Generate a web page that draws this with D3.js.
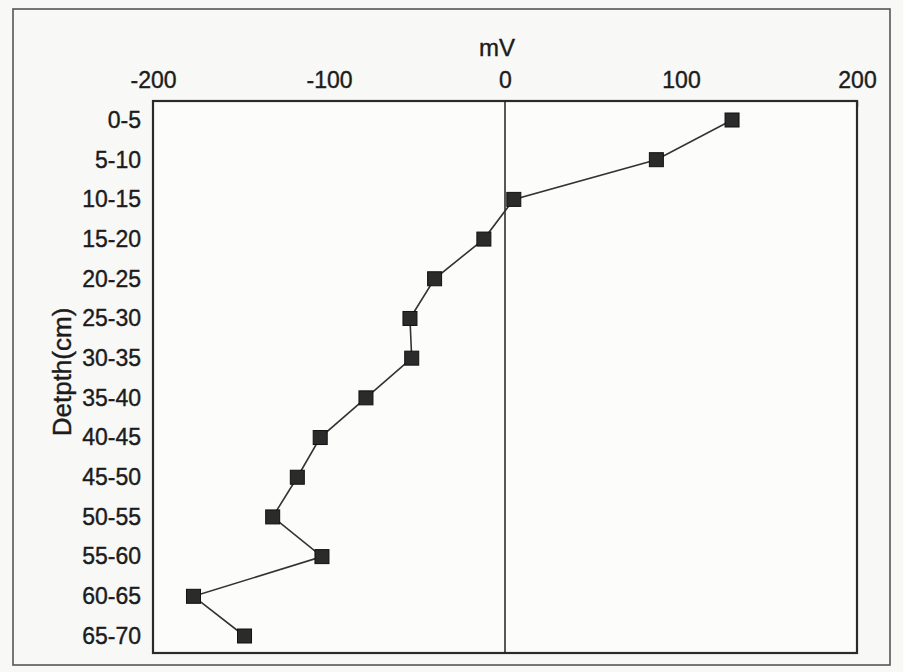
<!DOCTYPE html>
<html>
<head>
<meta charset="utf-8">
<script src="https://cdn.jsdelivr.net/npm/d3@7/dist/d3.min.js"></script>
<style>
  html, body { margin: 0; padding: 0; background: #f8f8f6; }
  svg { display: block; }
  text { font-family: "Liberation Sans", Arial, sans-serif; fill: #1c1c1c; }
</style>
</head>
<body>
<svg id="chart" width="903" height="672"></svg>
<script>
// Depth intervals (cm) and measured potential (mV)
const depths = ["0-5", "5-10", "10-15", "15-20", "20-25", "25-30", "30-35",
                "35-40", "40-45", "45-50", "50-55", "55-60", "60-65", "65-70"];
const mvValues = [129, 86, 5, -12, -40, -54, -53, -79, -105, -118, -132, -104, -177, -148];
const xTicks = [-200, -100, 0, 100, 200];

const svg = d3.select("#chart");
const plot = { left: 153, right: 857, top: 101, bottom: 653 };

// Outer figure border
svg.append("rect")
  .attr("x", 13).attr("y", 9)
  .attr("width", 877).attr("height", 656)
  .attr("fill", "none")
  .attr("stroke", "#555")
  .attr("stroke-width", 1.6);

const x = d3.scaleLinear().domain([-200, 200]).range([plot.left, plot.right]);
const y = d3.scalePoint().domain(depths).range([120, 636]);

// Top value axis with inward ticks
const xAxis = svg.append("g")
  .attr("transform", `translate(0,${plot.top})`)
  .call(d3.axisTop(x).tickValues(xTicks).tickSizeInner(-6).tickSizeOuter(0).tickPadding(13)
    .tickFormat(d3.format("d")));
xAxis.select(".domain").remove();
xAxis.selectAll("line").attr("stroke", "#333").attr("stroke-width", 1.4);
xAxis.selectAll("text")
  .attr("font-size", 23)
  .attr("stroke", "#1c1c1c").attr("stroke-width", 0.4)
  .text(d => d < 0 ? "-" + Math.abs(d) : d);

// Left depth axis with inward ticks
const yAxis = svg.append("g")
  .attr("transform", `translate(${plot.left},0)`)
  .call(d3.axisLeft(y).tickSizeInner(-8).tickSizeOuter(0).tickPadding(12));
yAxis.select(".domain").remove();
yAxis.selectAll("line").attr("stroke", "#333").attr("stroke-width", 1.4);
yAxis.selectAll("text")
  .attr("font-size", 23)
  .attr("stroke", "#1c1c1c").attr("stroke-width", 0.4);

// Plot frame
svg.append("rect")
  .attr("x", plot.left).attr("y", plot.top)
  .attr("width", plot.right - plot.left).attr("height", plot.bottom - plot.top)
  .attr("fill", "#fcfcfb")
  .attr("stroke", "#2a2a2a")
  .attr("stroke-width", 2.2);

// Zero reference line
svg.append("line")
  .attr("x1", x(0)).attr("x2", x(0))
  .attr("y1", plot.top).attr("y2", plot.bottom)
  .attr("stroke", "#222")
  .attr("stroke-width", 1.5);

// Axis titles
svg.append("text")
  .attr("x", x(0) - 8).attr("y", 56)
  .attr("text-anchor", "middle")
  .attr("font-size", 24)
  .attr("stroke", "#1c1c1c").attr("stroke-width", 0.4)
  .text("mV");

svg.append("text")
  .attr("transform", "translate(71,372) rotate(-90)")
  .attr("text-anchor", "middle")
  .attr("font-size", 26)
  .attr("stroke", "#1c1c1c").attr("stroke-width", 0.4)
  .text("Detpth(cm)");

// Profile line
const data = depths.map((d, i) => ({ depth: d, mv: mvValues[i] }));
svg.append("path")
  .datum(data)
  .attr("fill", "none")
  .attr("stroke", "#333")
  .attr("stroke-width", 1.6)
  .attr("d", d3.line().x(d => x(d.mv)).y(d => y(d.depth)));

// Square markers
const size = 14;
svg.append("g").selectAll("rect")
  .data(data)
  .join("rect")
  .attr("x", d => x(d.mv) - size / 2)
  .attr("y", d => y(d.depth) - size / 2)
  .attr("width", size).attr("height", size)
  .attr("fill", "#2b2b2b")
  .attr("stroke", "#111")
  .attr("stroke-width", 1);
</script>
</body>
</html>
